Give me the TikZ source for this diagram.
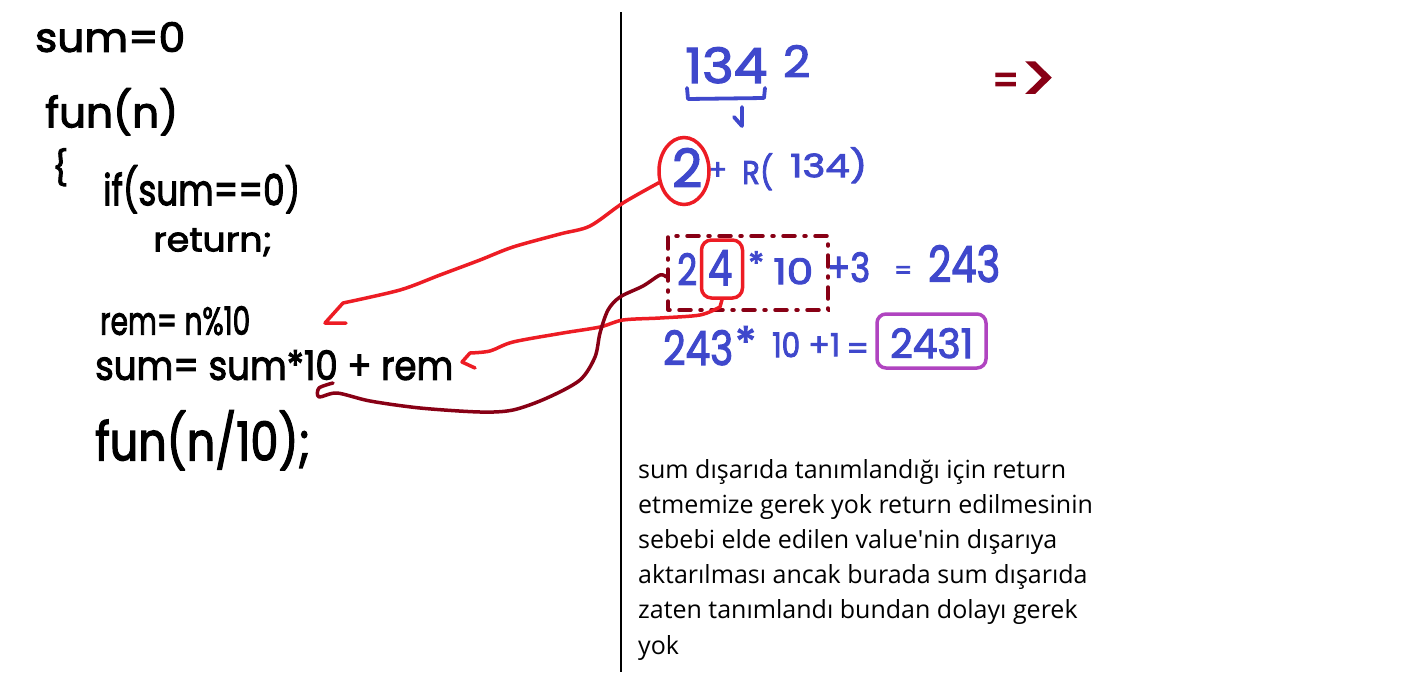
\documentclass[tikz,border=0pt]{standalone}
\usepackage{fontspec}
\usepackage{graphicx}
\usetikzlibrary{shapes.geometric}
\setmainfont{Open Sans}
\newfontfamily\hwf{Poppins}[FakeBold=2.6]
\definecolor{inkblue}{RGB}{63,72,204}
\definecolor{inkred}{RGB}{237,28,36}
\definecolor{inkdark}{RGB}{136,0,21}
\definecolor{inkpurple}{RGB}{176,68,192}
\newcommand\hwtxt[3]{\resizebox*{#1pt}{#2pt}{\hwf #3}}
\newcommand\hwsym[2]{\resizebox{#1pt}{!}{\hwf #2}}
\tikzset{
  hw/.style={inner sep=0pt, anchor=north west},
  blk/.style={hw, text=black},
  blu/.style={hw, text=inkblue},
  note/.style={anchor=base west, inner sep=0pt, font=\fontsize{25}{30}\selectfont},
  redline/.style={draw=inkred, line width=3.5pt, line cap=round, line join=round},
  darkline/.style={draw=inkdark, line width=3.5pt, line cap=round, line join=round},
  blueline/.style={draw=inkblue, line width=3.8pt, line cap=round, line join=round},
}
\begin{document}
\begin{tikzpicture}[x=1pt,y=-1pt]
\useasboundingbox[fill=white] (0,0) rectangle (1416,672);
% divider
\draw[line width=2.5pt] (621,12) coordinate (vtop) -- (621,672) coordinate (vbot);
% left code
\node[blk] (l1) at (35,22) {\hwtxt{150}{30}{sum=0}};
\node[blk] (l2) at (45,88) {\hwtxt{133}{47}{fun(n)}};
\node[blk] (l3) at (52,148) {\hwtxt{16}{38}{\{}};
\node[blk] (l4) at (103,165) {\hwtxt{197}{48}{if(sum==0)}};
\node[blk] (l5) at (153,228) {\hwtxt{119}{28}{return;}};
\node[blk] (l6) at (100,306) {\hwtxt{150}{29}{rem= n\%10}};
\node[blk] (l7) at (95,350) {\hwtxt{358}{30}{sum= sum*10 + rem}};
\node[blk] (l8) at (95,410) {\hwtxt{215}{60}{fun(n/10);}};
% right: 1342
\node[blu] (r134) at (685,47) {\hwtxt{82}{36}{134}};
\node[blu] (r2s) at (783,45) {\hwtxt{27}{32}{2}};
\draw[blueline] (687,88) -- (688,99) -- (764,98) -- (765,88);
\coordinate (brc) at (742,107);
\node[blu] (d2) at (672,148) {\hwtxt{30}{39}{2}};
\draw[blueline] (brc) -- (742,126) -- (734,117);
\node[blu] (dplus) at (708,162) {\hwsym{19}{+}};
\node[blu] (dR) at (742,153) {\hwtxt{31}{37}{R(}};
\node[blu] (d134) at (790,147) {\hwtxt{77}{36}{134)}};
\node[hw, text=inkdark] (impeq) at (992,73) {\hwtxt{27}{22}{=}};
\node[hw, text=inkdark] (impgt) at (1021,62) {\hwtxt{35}{40}{>}};
% row 24*10+3 = 243
\node[blu] (e2) at (677,253) {\hwtxt{20}{32}{2}};
\node[blu] (e4) at (708,250) {\hwtxt{24}{35}{4}};
\node[blu] (est) at (748,251) {\hwsym{16}{*}};
\node[blu] (e10) at (773,258) {\hwtxt{40}{26}{10}};
\node[blu] (ep3) at (827,252) {\hwtxt{43}{30}{+3}};
\node[blu] (eeq) at (894,266) {\hwsym{18}{=}};
\node[blu] (e243) at (928,245) {\hwtxt{72}{37}{243}};
% row 243*10+1 = 2431
\node[blu] (f243) at (663,330) {\hwtxt{70}{35}{243}};
\node[blu] (fst) at (735,326) {\hwsym{21}{*}};
\node[blu] (f10) at (772,332) {\hwtxt{28}{25}{10}};
\node[blu] (fp1) at (808,333) {\hwtxt{32}{23}{+1}};
\node[blu] (feq) at (846,343) {\hwsym{23}{=}};
\node[blu] (f2431) at (890,328) {\hwtxt{83}{30}{2431}};
\draw[draw=inkpurple, line width=3.5pt, rounded corners=9pt] (877,314) rectangle (986,368);
% circles / boxes
\node[draw=inkred, line width=3.5pt, ellipse, minimum width=50pt, minimum height=67pt, inner sep=0pt] (c2) at (684,171) {};
\node[draw=inkred, line width=3.5pt, rounded corners=10pt, minimum width=41pt, minimum height=58pt, inner sep=0pt] (c4) at (722,269) {};
\node[draw=inkdark, line width=3.5pt, dash pattern=on 2pt off 9pt on 12pt off 9pt, line cap=round, minimum width=160pt, minimum height=74pt, inner sep=0pt] (dbox) at (748,273) {};
% red arrow 1
\coordinate (a1tip) at (325,323);
\draw[redline] plot[smooth, tension=0.5] coordinates {(c2.205) (623,203) (590,226) (560,234) (513,247) (480,260) (440,275) (400,290) (343,303)} -- (a1tip) -- (346,323);
% red arrow 2
\coordinate (a2tip) at (462,362);
\draw[redline] (c4.south) -- (720,307) plot[smooth, tension=0.5] coordinates {(720,307) (700,315) (660,318) (623,320) (600,327) (563,333) (513,342) (490,351) (470,353)} -- (a2tip) -- (475,368);
% dark red curve
\coordinate (hk) at (333,383);
\draw[darkline] plot[smooth, tension=0.5] coordinates {(dbox.west |- 0,277) (660,275) (643,286) (620,297) (608,310) (600,333) (595,357) (580,380) (547,398) (513,410) (480,412) (420,408) (370,401) (337,393) (319,397) (319,388) (hk)};
% notes
\node[note] (t1) at (638,478) {sum dışarıda tanımlandığı için return};
\node[note] (t2) at (638,513.2) {etmemize gerek yok return edilmesinin};
\node[note] (t3) at (638,548.4) {sebebi elde edilen value\textquotesingle nin dışarıya};
\node[note] (t4) at (638,583.6) {aktarılması ancak burada sum dışarıda};
\node[note] (t5) at (638,618.8) {zaten tanımlandı bundan dolayı gerek};
\node[note] (t6) at (638,654) {yok};
\end{tikzpicture}
\end{document}
